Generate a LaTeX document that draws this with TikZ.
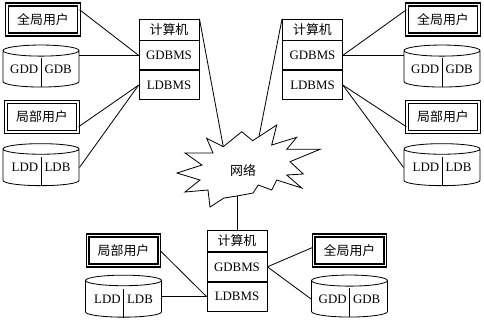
\documentclass[tikz,border=0pt]{standalone}
\usepackage{fontspec}
\setmainfont{Liberation Serif}
\newfontfamily\cjk{Noto Sans CJK SC}
\usetikzlibrary{positioning,shapes.geometric}

\begin{document}
\begin{tikzpicture}[
 x=0.03cm, y=-0.03cm, line width=0.7pt,
 font=\fontsize{11}{12}\selectfont,
 user/.style={rectangle, draw, double, double distance=1.2pt, line width=1.2pt, minimum width=2.15cm, minimum height=0.9cm, inner sep=0pt, font=\cjk\fontsize{11}{12}\selectfont},
 db/.style={cylinder, shape border rotate=90, draw, aspect=0.18, minimum width=2.28cm, minimum height=1.26cm, inner sep=0pt},
 pchead/.style={rectangle, draw, minimum width=1.8cm, minimum height=0.63cm, inner sep=0pt, font=\cjk\fontsize{11}{12}\selectfont},
 pcrow/.style={pchead, minimum height=0.87cm, font=\fontsize{11}{12}\selectfont},
]
\useasboundingbox (0,0) rectangle (484,322);

% left site
\node[user] (guL) at (43,19.5) {全局用户};
\node[db] (gdbL) at (41,69) {GDD\enspace GDB};
\node[user] (luL) at (42,117) {局部用户};
\node[db] (ldbL) at (41,167.5) {LDD\enspace LDB};
\node[pchead] (pcL) at (169,29.5) {计算机};
\node[pcrow, below=0pt of pcL] (gL) {GDBMS};
\node[pcrow, below=0pt of gL] (lL) {LDBMS};

% right site
\node[user] (guR) at (443,19.5) {全局用户};
\node[db] (gdbR) at (442,69) {GDD\enspace GDB};
\node[user] (luR) at (443,117) {局部用户};
\node[db] (ldbR) at (442,167.5) {LDD\enspace LDB};
\node[pchead] (pcR) at (312.5,29.5) {计算机};
\node[pcrow, below=0pt of pcR] (gR) {GDBMS};
\node[pcrow, below=0pt of gR] (lR) {LDBMS};

% bottom site
\node[user] (luB) at (123.5,250.5) {局部用户};
\node[db] (ldbB) at (123.5,299) {LDD\enspace LDB};
\node[user] (guB) at (349.5,250.5) {全局用户};
\node[db] (gdbB) at (349.5,299) {GDD\enspace GDB};
\node[pchead] (pcB) at (237,241) {计算机};
\node[pcrow, below=0pt of pcB] (gB) {GDBMS};
\node[pcrow, below=0pt of gB] (lB) {LDBMS};

% dividers in the disks
\foreach \d in {gdbL,ldbL,gdbR,ldbR,ldbB,gdbB}
  \draw (\d.south) -- ++(0,-29);

% network
\draw (206.7,138.3) -- (223.3,146.7) coordinate (netL) -- (241.7,131.7) -- (252.7,140.7)
  -- (259,136.6) coordinate (netR) -- (276.7,125) -- (271.7,145) -- (296.7,137.3)
  -- (286.7,149.3) -- (320,149.3) -- (290,161.7) -- (303.3,174) -- (286.7,175)
  -- (301.7,188) -- (276.7,180) -- (271.7,190) -- (258.3,185) -- (253,193)
  -- (237,196) coordinate (netB) -- (224,198) -- (210,207) -- (208,190) -- (185,192)
  -- (200,180) -- (177,173) -- (202,165) -- (185,153) -- (213,153) -- cycle;
\node[font=\cjk\fontsize{11}{12}\selectfont] (net) at (243,170) {网络};

\draw (guL.15) -- (gL.west);
\draw (gdbL.east |- gL.west) -- (gL.west);
\draw (luL.-15) -- (lL.west);
\draw (ldbL.east) -- (lL.west);
\draw (pcL.north east) -- (netL);

\draw (gR.east) -- (guR.165);
\draw (gR.east) -- (gR.east -| gdbR.west);
\draw (lR.east) -- (luR.195);
\draw (lR.east) -- (ldbR.west);
\draw (pcR.north west) -- (netR);

\draw (luB.east) -- (lB.west);
\draw (ldbB.east |- lB.west) -- (lB.west);
\draw (gB.east) -- (guB.175);
\draw (gB.east) -- (gdbB.west);
\draw (netB) -- (pcB.north);
\end{tikzpicture}
\end{document}
